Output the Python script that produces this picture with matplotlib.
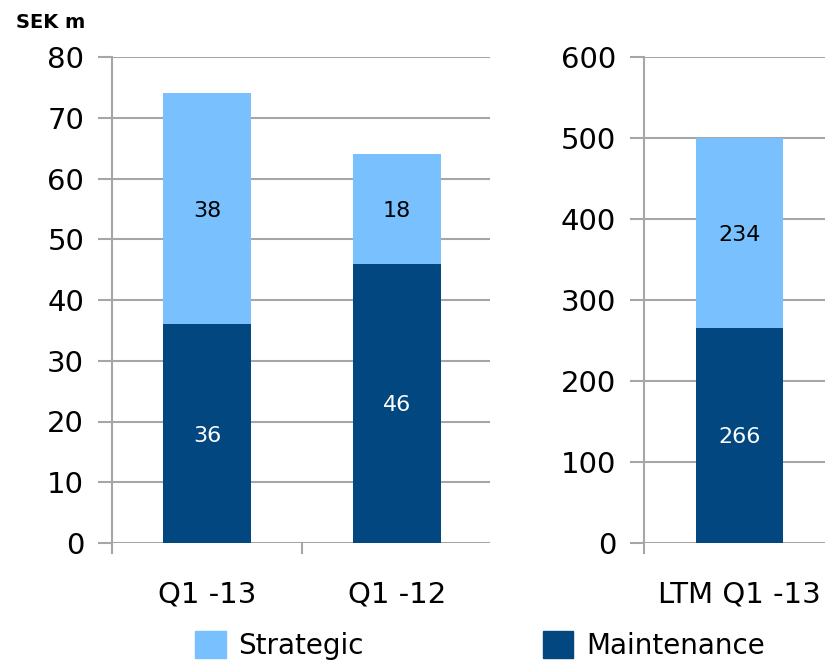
import matplotlib
matplotlib.use("Agg")
from matplotlib import pyplot as plt
from matplotlib.patches import Patch

# SEK m, quarter comparison
quarters = ['Q1 -13', 'Q1 -12']
maint_q = [36, 46]
strat_q = [38, 18]

# last twelve months
ltm = ['LTM Q1 -13']
maint_ltm = [266]
strat_ltm = [234]

c_strat = '#79C0FF'
c_maint = '#02477F'
grid_c = '#A6A6A6'

plt.rcParams['font.family'] = 'DejaVu Sans'

fig = plt.figure(figsize=(8.25, 6.6), dpi=100)
ax1 = fig.add_axes([112 / 825, 117 / 660, 378 / 825, 486 / 660])
ax2 = fig.add_axes([644 / 825, 117 / 660, 181 / 825, 486 / 660])

w = 0.46


def style(ax, ymax, step):
    ax.set_ylim(0, ymax)
    ax.set_yticks(range(0, ymax + 1, step))
    ax.yaxis.grid(True, color=grid_c, linewidth=1.5)
    ax.set_axisbelow(True)
    for s in ['top', 'right', 'bottom']:
        ax.spines[s].set_visible(False)
    ax.spines['left'].set_color(grid_c)
    ax.spines['left'].set_linewidth(1.5)
    ax.tick_params(axis='y', length=10, width=1.5, color=grid_c,
                   labelsize=21, pad=10)
    ax.tick_params(axis='x', length=0, labelsize=21, pad=27)


def labels(ax, xs, bottoms, vals, color):
    for x, b, v in zip(xs, bottoms, vals):
        ax.text(x, b + v / 2, str(v), ha='center', va='center_baseline',
                fontsize=16, color=color)


# left panel
x1 = list(range(len(quarters)))
ax1.bar(x1, maint_q, w, color=c_maint)
ax1.bar(x1, strat_q, w, bottom=maint_q, color=c_strat)
labels(ax1, x1, [0] * len(x1), maint_q, 'white')
labels(ax1, x1, maint_q, strat_q, 'black')
style(ax1, 80, 10)
ax1.set_xlim(-0.5, 1.49)
ax1.set_xticks(x1)
ax1.set_xticklabels(quarters)
# category separators below the axis
for xb in [-0.5, 0.5]:
    ax1.plot([xb, xb], [0, -1.65], color=grid_c, lw=1.5, clip_on=False)

# right panel
x2 = [0]
ax2.bar(x2, maint_ltm, w, color=c_maint)
ax2.bar(x2, strat_ltm, w, bottom=maint_ltm, color=c_strat)
labels(ax2, x2, [0], maint_ltm, 'white')
labels(ax2, x2, maint_ltm, strat_ltm, 'black')
style(ax2, 600, 100)
ax2.set_xlim(-0.5, 0.448)
ax2.set_xticks(x2)
ax2.set_xticklabels(ltm)
ax2.plot([-0.5, -0.5], [0, -12.3], color=grid_c, lw=1.5, clip_on=False)

fig.text(16 / 825, 1 - 22 / 660, 'SEK m', fontsize=14, fontweight='bold',
         va='center', ha='left')

handles = [Patch(color=c_strat, label='Strategic'),
           Patch(color=c_maint, label='Maintenance')]
fig.legend(handles=handles, loc='upper left',
           bbox_to_anchor=(195 / 825, 1 - 631 / 660), ncol=2, frameon=False,
           fontsize=20, handlelength=1.1, handleheight=1.1,
           handletextpad=0.45, columnspacing=6.45, borderpad=0,
           borderaxespad=0)

fig.savefig('out.png', dpi=100)
